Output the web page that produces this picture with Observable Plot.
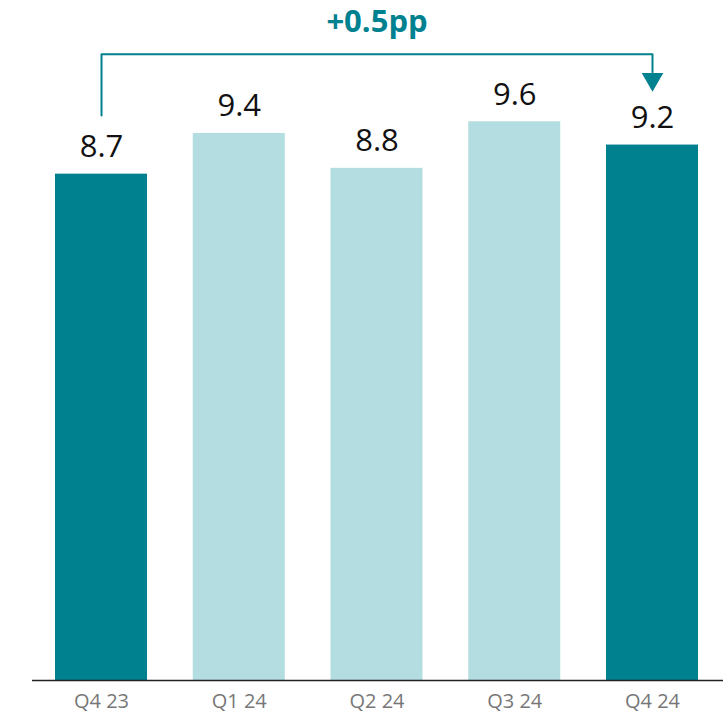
<!DOCTYPE html>
<html>
<head>
<meta charset="utf-8">
<script src="https://cdn.jsdelivr.net/npm/d3@7"></script>
<script src="https://cdn.jsdelivr.net/npm/@observablehq/plot@0.6"></script>
<style>
  html, body { margin: 0; padding: 0; background: #fff; }
  #chart svg { display: block; }
</style>
</head>
<body>
<div id="chart"></div>
<script>
const categories = ["Q4 23", "Q1 24", "Q2 24", "Q3 24", "Q4 24"];
const values = [8.7, 9.4, 8.8, 9.6, 9.2];
const highlighted = [true, false, false, false, true];

const DARK = "#00818F";
const LIGHT = "#B3DDE0";

const data = categories.map((c, i) => ({ cat: c, value: values[i], hl: highlighted[i] }));

const first = data[0], last = data[data.length - 1];
const delta = last.value - first.value;
const deltaLabel = (delta >= 0 ? "+" : "") + delta.toFixed(1) + "pp";

// bracket annotation (in data units)
const bracketTop = 10.76;
const bracket = [
  { cat: first.cat, y: first.value + 1.01 },
  { cat: first.cat, y: bracketTop },
  { cat: last.cat, y: bracketTop },
  { cat: last.cat, y: 10.45 }
];
const arrowHead = [{ cat: last.cat, y: 10.33 }];
const midCat = categories[Math.floor(categories.length / 2)];

const chart = Plot.plot({
  width: 723,
  height: 714,
  marginTop: 98,
  marginBottom: 34,
  marginLeft: 32,
  marginRight: 2,
  style: { fontFamily: "'Open Sans', sans-serif", background: "#fff" },
  x: { domain: categories, paddingInner: 0.332, paddingOuter: 0.167, round: false, label: null },
  y: { domain: [0, 10], axis: null },
  marks: [
    Plot.barY(data, { x: "cat", y: "value", fill: d => d.hl ? DARK : LIGHT }),
    Plot.ruleY([0], { stroke: "#222", strokeWidth: 1.5, insetRight: -2 }),
    Plot.axisX({ tickSize: 0, tickPadding: 13, fontSize: 20, fill: "#777", label: null }),
    Plot.text(data, { x: "cat", y: "value", text: d => d.value.toFixed(1), dy: -27, fontSize: 31, fill: "#111" }),
    Plot.line(bracket, { x: "cat", y: "y", stroke: DARK, strokeWidth: 2, curve: "linear" }),
    Plot.dot(arrowHead, { x: "cat", y: "y", symbol: "triangle", r: 8, rotate: 180, fill: DARK, stroke: "none" }),
    Plot.text([deltaLabel], { x: () => midCat, y: () => 11.31, text: d => d, fontSize: 31, fontWeight: "bold", fill: DARK })
  ]
});

document.getElementById("chart").append(chart);
</script>
</body>
</html>
